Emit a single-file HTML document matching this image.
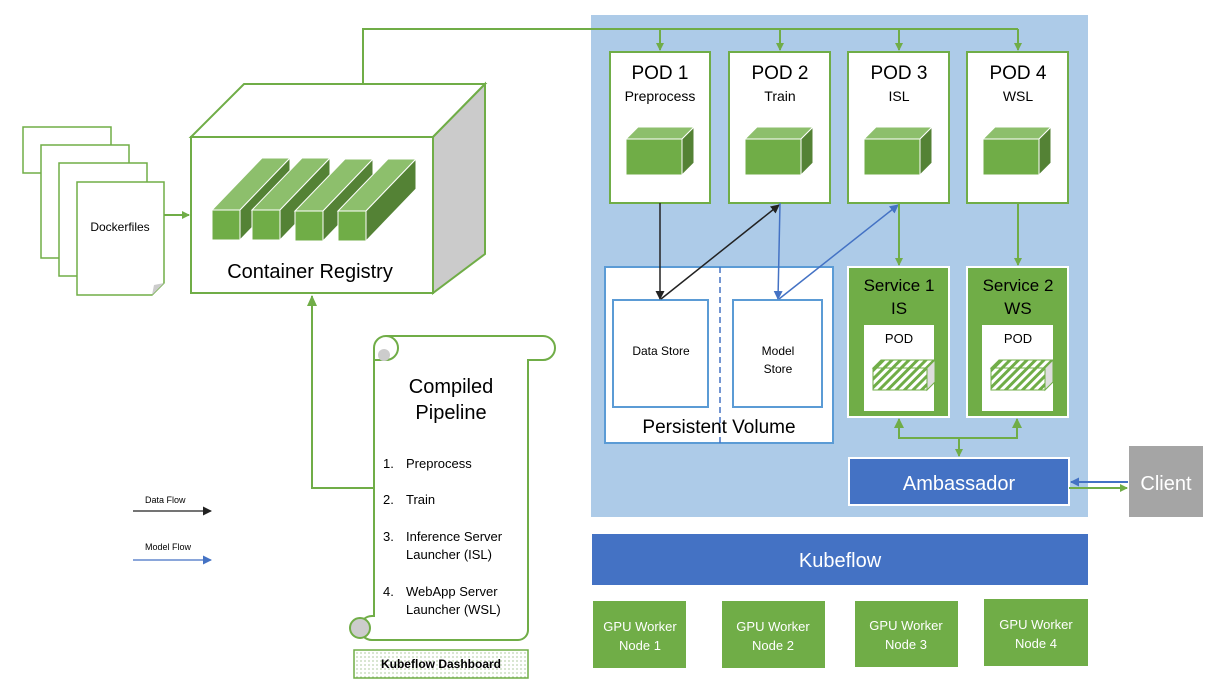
<!DOCTYPE html>
<html><head><meta charset="utf-8"><style>
body{margin:0;background:#fff}
svg{display:block;font-family:"Liberation Sans",sans-serif}
</style></head><body>
<svg width="1223" height="688" viewBox="0 0 1223 688" xmlns="http://www.w3.org/2000/svg">
<defs>
<marker id="ag" markerWidth="8" markerHeight="8" refX="7" refY="4" orient="auto" markerUnits="userSpaceOnUse"><path d="M0,0 L8,4 L0,8 z" fill="#70ad47"/></marker>
<marker id="ak" markerWidth="9" markerHeight="9" refX="8" refY="4.5" orient="auto" markerUnits="userSpaceOnUse"><path d="M0,0 L9,4.5 L0,9 z" fill="#222"/></marker>
<marker id="ab" markerWidth="9" markerHeight="9" refX="8" refY="4.5" orient="auto" markerUnits="userSpaceOnUse"><path d="M0,0 L9,4.5 L0,9 z" fill="#4472c4"/></marker>
<pattern id="hatch" width="6" height="6" patternUnits="userSpaceOnUse" patternTransform="rotate(45)"><rect width="6" height="6" fill="#fff"/><rect width="3" height="6" fill="#70ad47"/></pattern>
<pattern id="dots" width="4" height="4" patternUnits="userSpaceOnUse"><rect width="4" height="4" fill="#fff"/><circle cx="1" cy="1" r="0.6" fill="#7aa860"/></pattern>
<g id="cube">
<polygon points="0,12 12,0 68,0 56,12" fill="#8dbf6c" stroke="#fff" stroke-width="1"/>
<polygon points="56,12 68,0 68,36 56,48" fill="#548235" stroke="#fff" stroke-width="1"/>
<rect x="0" y="12" width="56" height="36" fill="#70ad47" stroke="#fff" stroke-width="1"/>
</g>
<g id="hcube">
<polygon points="0,8 8,0 62,0 54,8" fill="url(#hatch)" stroke="#70ad47"/>
<polygon points="54,8 62,0 62,22 54,30" fill="#ddd" stroke="#70ad47"/>
<rect x="0" y="8" width="54" height="22" fill="url(#hatch)" stroke="#70ad47"/>
</g>
<g id="bar">
<polygon points="0,0 50,-52 78,-52 28,0" fill="#8dbf6c" stroke="#fff"/>
<polygon points="28,0 78,-52 78,-22 28,30" fill="#548235" stroke="#fff"/>
<rect x="0" y="0" width="28" height="30" fill="#70ad47" stroke="#fff"/>
</g>
</defs>

<rect x="591" y="15" width="497" height="502" fill="#adcbe8"/>

<!-- Dockerfiles -->
<g fill="#fff" stroke="#70ad47" stroke-width="1.5">
<rect x="23" y="127" width="88" height="46"/>
<rect x="41" y="145" width="88" height="113"/>
<rect x="59" y="163" width="88" height="113"/>
<path d="M77,182 H164 V283 L152,295 H77 Z"/>
</g>
<path d="M152,295 L154,285 L164,283 Z" fill="#ccc"/>
<text x="120" y="231" font-size="12" text-anchor="middle">Dockerfiles</text>
<line x1="164" y1="215" x2="189" y2="215" stroke="#70ad47" stroke-width="2" marker-end="url(#ag)"/>

<!-- Container Registry cube -->
<polygon points="191,137 244,84 485,84 433,137" fill="#fff" stroke="#70ad47" stroke-width="2"/>
<polygon points="433,137 485,84 485,254 433,293" fill="#cbcbcb" stroke="#70ad47" stroke-width="2"/>
<rect x="191" y="137" width="242" height="156" fill="#fff" stroke="#70ad47" stroke-width="2"/>
<use href="#bar" x="212" y="210"/>
<use href="#bar" x="252" y="210"/>
<use href="#bar" x="295" y="211"/>
<use href="#bar" x="338" y="211"/>
<text x="310" y="278" font-size="20" text-anchor="middle">Container Registry</text>

<polyline points="363,84 363,29 1018,29" fill="none" stroke="#70ad47" stroke-width="2"/>
<g stroke="#70ad47" stroke-width="2">
<line x1="660" y1="29" x2="660" y2="50" marker-end="url(#ag)"/>
<line x1="780" y1="29" x2="780" y2="50" marker-end="url(#ag)"/>
<line x1="899" y1="29" x2="899" y2="50" marker-end="url(#ag)"/>
<line x1="1018" y1="29" x2="1018" y2="50" marker-end="url(#ag)"/>
</g>

<g fill="#fff" stroke="#70ad47" stroke-width="2">
<rect x="610" y="52" width="100" height="151"/>
<rect x="729" y="52" width="101" height="151"/>
<rect x="848" y="52" width="101" height="151"/>
<rect x="967" y="52" width="101" height="151"/>
</g>
<g font-size="19" text-anchor="middle">
<text x="660" y="79">POD 1</text><text x="780" y="79">POD 2</text><text x="899" y="79">POD 3</text><text x="1018" y="79">POD 4</text>
</g>
<g font-size="14" text-anchor="middle">
<text x="660" y="101">Preprocess</text><text x="780" y="101">Train</text><text x="899" y="101">ISL</text><text x="1018" y="101">WSL</text>
</g>
<use href="#cube" x="626" y="127"/>
<use href="#cube" x="745" y="127"/>
<use href="#cube" x="864" y="127"/>
<use href="#cube" x="983" y="127"/>

<rect x="605" y="267" width="228" height="176" fill="#fff" stroke="#5b9bd5" stroke-width="2"/>
<line x1="720" y1="267" x2="720" y2="443" stroke="#4472c4" stroke-width="1.5" stroke-dasharray="6,4"/>
<rect x="613" y="300" width="95" height="107" fill="#fff" stroke="#5b9bd5" stroke-width="2"/>
<rect x="733" y="300" width="89" height="107" fill="#fff" stroke="#5b9bd5" stroke-width="2"/>
<text x="661" y="355" font-size="12" text-anchor="middle">Data Store</text>
<text x="778" y="355" font-size="12" text-anchor="middle">Model</text>
<text x="778" y="373" font-size="12" text-anchor="middle">Store</text>
<text x="719" y="433" font-size="19" text-anchor="middle">Persistent Volume</text>

<line x1="660" y1="203" x2="660" y2="299" stroke="#222" stroke-width="1.5" marker-end="url(#ak)"/>
<line x1="661" y1="299" x2="779" y2="205" stroke="#222" stroke-width="1.5" marker-end="url(#ak)"/>
<line x1="780" y1="203" x2="778" y2="299" stroke="#4472c4" stroke-width="1.5" marker-end="url(#ab)"/>
<line x1="779" y1="299" x2="898" y2="205" stroke="#4472c4" stroke-width="1.5" marker-end="url(#ab)"/>
<line x1="899" y1="203" x2="899" y2="265" stroke="#70ad47" stroke-width="2" marker-end="url(#ag)"/>
<line x1="1018" y1="203" x2="1018" y2="265" stroke="#70ad47" stroke-width="2" marker-end="url(#ag)"/>

<g fill="#70ad47" stroke="#fff" stroke-width="2">
<rect x="848" y="267" width="101" height="150"/>
<rect x="967" y="267" width="101" height="150"/>
</g>
<g font-size="17" text-anchor="middle">
<text x="899" y="291">Service 1</text><text x="899" y="314">IS</text>
<text x="1018" y="291">Service 2</text><text x="1018" y="314">WS</text>
</g>
<rect x="864" y="325" width="70" height="86" fill="#fff"/>
<rect x="982" y="325" width="71" height="86" fill="#fff"/>
<text x="899" y="343" font-size="13" text-anchor="middle">POD</text>
<text x="1018" y="343" font-size="13" text-anchor="middle">POD</text>
<use href="#hcube" x="873" y="360"/>
<use href="#hcube" x="991" y="360"/>

<polyline points="899,419 899,438 1017,438 1017,419" fill="none" stroke="#70ad47" stroke-width="2"/>
<path d="M894,428 L899,418 L904,428 Z M1012,428 L1017,418 L1022,428 Z" fill="#70ad47"/>
<line x1="959" y1="438" x2="959" y2="456" stroke="#70ad47" stroke-width="2" marker-end="url(#ag)"/>
<rect x="849" y="458" width="220" height="47" fill="#4472c4" stroke="#fff" stroke-width="2"/>
<text x="959" y="490" font-size="20" fill="#fff" text-anchor="middle">Ambassador</text>
<rect x="1129" y="446" width="74" height="71" fill="#a5a5a5"/>
<text x="1166" y="490" font-size="20" fill="#fff" text-anchor="middle">Client</text>
<line x1="1128" y1="482" x2="1071" y2="482" stroke="#4472c4" stroke-width="2" marker-end="url(#ab)"/>
<line x1="1069" y1="488" x2="1127" y2="488" stroke="#70ad47" stroke-width="2" marker-end="url(#ag)"/>

<rect x="592" y="534" width="496" height="51" fill="#4472c4"/>
<text x="840" y="567" font-size="20" fill="#fff" text-anchor="middle">Kubeflow</text>
<g fill="#70ad47">
<rect x="593" y="601" width="93" height="67"/>
<rect x="722" y="601" width="103" height="67"/>
<rect x="855" y="601" width="103" height="66"/>
<rect x="984" y="599" width="104" height="67"/>
</g>
<g font-size="13" fill="#fff" text-anchor="middle">
<text x="640" y="631">GPU Worker</text><text x="640" y="650">Node 1</text>
<text x="773" y="631">GPU Worker</text><text x="773" y="650">Node 2</text>
<text x="906" y="630">GPU Worker</text><text x="906" y="649">Node 3</text>
<text x="1036" y="629">GPU Worker</text><text x="1036" y="648">Node 4</text>
</g>

<polyline points="374,488 312,488 312,296" fill="none" stroke="#70ad47" stroke-width="2"/>
<path d="M307,306 L312,295 L317,306 Z" fill="#70ad47"/>

<path d="M386,336 H543 A12,12 0 0 1 543,360 H528 V630 A10,10 0 0 1 518,640 H372 A12,12 0 0 1 372,616 H374 V348 A12,12 0 0 1 386,336 Z" fill="#fff" stroke="#70ad47" stroke-width="2"/>
<path d="M386,336 A12,12 0 0 1 386,360 H374 V348" fill="none" stroke="#70ad47" stroke-width="2"/>
<circle cx="384" cy="355" r="6" fill="#ccc"/>
<circle cx="360" cy="628" r="10" fill="#ccc" stroke="#70ad47" stroke-width="2"/>
<g text-anchor="middle" font-size="20"><text x="451" y="393">Compiled</text><text x="451" y="419">Pipeline</text></g>
<g font-size="13">
<text x="383" y="468">1.</text><text x="406" y="468">Preprocess</text>
<text x="383" y="504">2.</text><text x="406" y="504">Train</text>
<text x="383" y="541">3.</text><text x="406" y="541">Inference Server</text><text x="406" y="559">Launcher (ISL)</text>
<text x="383" y="596">4.</text><text x="406" y="596">WebApp Server</text><text x="406" y="614">Launcher (WSL)</text>
</g>
<rect x="354" y="650" width="174" height="28" fill="url(#dots)" stroke="#70ad47" stroke-width="1.5"/>
<text x="441" y="668" font-size="12" font-weight="bold" text-anchor="middle">Kubeflow Dashboard</text>

<text x="145" y="503" font-size="9">Data Flow</text>
<line x1="133" y1="511" x2="211" y2="511" stroke="#222" stroke-width="1.2" marker-end="url(#ak)"/>
<text x="145" y="550" font-size="9">Model Flow</text>
<line x1="133" y1="560" x2="211" y2="560" stroke="#4472c4" stroke-width="1.2" marker-end="url(#ab)"/>
</svg>
</body></html>
